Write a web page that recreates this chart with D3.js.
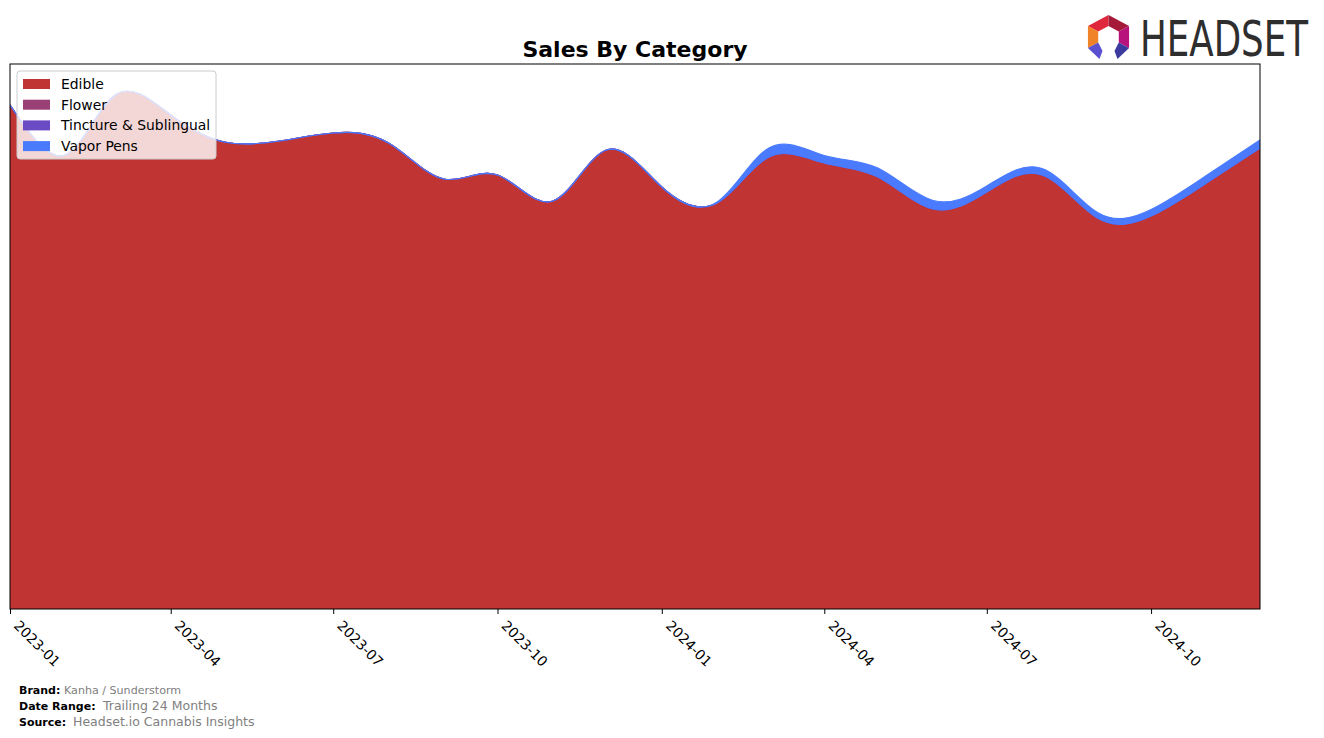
<!DOCTYPE html>
<html>
<head>
<meta charset="utf-8">
<script src="https://cdn.jsdelivr.net/npm/d3@7"></script>
<style>
  html, body { margin: 0; padding: 0; background: #ffffff; }
  svg { display: block; font-family: "DejaVu Sans", sans-serif; }
</style>
</head>
<body>
<svg id="chart" width="1324" height="738"></svg>
<script>
// ---------------- DATA ----------------
const months = ["2023-01","2023-02","2023-03","2023-04","2023-05","2023-06","2023-07","2023-08","2023-09","2023-10","2023-11","2023-12",
                "2024-01","2024-02","2024-03","2024-04","2024-05","2024-06","2024-07","2024-08","2024-09","2024-10","2024-11","2024-12"];
const edible    = [504, 454, 514, 494, 467, 468, 476, 466, 430, 434, 408, 459,
                   422, 406, 452, 446, 432, 400, 417, 434, 391, 393, 426, 461];
const flower    = [0, 0, 0, 0, 0, 0, 0, 0, 0, 0, 0, 0,
                   0, 0, 0, 0, 0, 0, 0, 0, 0, 0, 0, 0];
const tincture  = [0, 0, 0, 0, 0, 0, 0, 0, 0, 0, 0, 0,
                   0, 0, 0, 0, 0, 0, 0, 0, 0, 0, 0, 0];
const vaporPens = [0, 0, 0, 0, 0, 0, 0, 0, 0, 0, 0, 0,
                   0, 1, 9, 7.5, 9, 8.5, 6, 6.5, 5.5, 6.5, 7.5, 8];
const categories = ["Edible", "Flower", "Tincture & Sublingual", "Vapor Pens"];
const tickLabels = ["2023-01","2023-04","2023-07","2023-10","2024-01","2024-04","2024-07","2024-10"];
const yMax = 545;

// ---------------- STYLE ----------------
const colors = ["#c03434", "#9b4077", "#6a4bc3", "#4a7bff"];
const plot = { left: 10, right: 1260, top: 64, bottom: 609 };

const svg = d3.select("#chart");
const parse = d3.timeParse("%Y-%m");

const rows = months.map((m, i) => ({
  date: parse(m),
  "Edible": edible[i],
  "Flower": flower[i],
  "Tincture & Sublingual": tincture[i],
  "Vapor Pens": vaporPens[i]
}));

const x = d3.scaleTime()
  .domain([parse(months[0]), parse(months[months.length - 1])])
  .range([plot.left, plot.right]);
const y = d3.scaleLinear().domain([0, yMax]).range([plot.bottom, plot.top]);

const series = d3.stack().keys(categories)(rows);

const area = d3.area()
  .x(d => x(d.data.date))
  .y0(d => y(d[0]))
  .y1(d => y(d[1]))
  .curve(d3.curveNatural);

svg.append("defs").append("clipPath").attr("id", "clip")
  .append("rect")
  .attr("x", plot.left).attr("y", plot.top)
  .attr("width", plot.right - plot.left).attr("height", plot.bottom - plot.top);

const g = svg.append("g").attr("clip-path", "url(#clip)");
g.selectAll("path.layer")
  .data(series)
  .join("path")
  .attr("class", "layer")
  .attr("d", area)
  .attr("fill", (d, i) => colors[i])
  .attr("stroke", (d, i) => colors[i])
  .attr("stroke-width", 1.2)
  .attr("stroke-linejoin", "round");

// frame
svg.append("rect")
  .attr("x", plot.left).attr("y", plot.top)
  .attr("width", plot.right - plot.left).attr("height", plot.bottom - plot.top)
  .attr("fill", "none").attr("stroke", "#000").attr("stroke-width", 1);

// x axis
const xAxis = d3.axisBottom(x)
  .tickValues(tickLabels.map(parse))
  .tickFormat(d3.timeFormat("%Y-%m"))
  .tickSize(5)
  .tickSizeOuter(0);
const ax = svg.append("g")
  .attr("transform", `translate(0,${plot.bottom})`)
  .call(xAxis);
ax.select(".domain").remove();
ax.selectAll(".tick line").attr("stroke", "#000").attr("stroke-width", 1);
ax.selectAll(".tick text")
  .attr("x", 0).attr("y", 0).attr("dy", "0.75em")
  .attr("transform", "translate(10,10) rotate(45)")
  .attr("text-anchor", "start")
  .attr("font-size", "13.9px")
  .attr("font-family", "DejaVu Sans, sans-serif")
  .attr("fill", "#000");

// title
svg.append("text")
  .attr("x", (plot.left + plot.right) / 2).attr("y", 57)
  .attr("text-anchor", "middle")
  .attr("font-size", "22px").attr("font-weight", "bold")
  .attr("fill", "#000")
  .text("Sales By Category");

// legend
const lg = svg.append("g");
lg.append("rect")
  .attr("x", 17).attr("y", 71).attr("width", 199).attr("height", 88).attr("rx", 3)
  .attr("fill", "#ffffff").attr("fill-opacity", 0.8)
  .attr("stroke", "#cccccc").attr("stroke-width", 1);
categories.forEach((c, i) => {
  const cy = 84 + i * 20.7;
  lg.append("rect").attr("x", 23).attr("y", cy - 5).attr("width", 27).attr("height", 10)
    .attr("fill", colors[i]);
  lg.append("text").attr("x", 61).attr("y", cy).attr("dy", "0.35em")
    .attr("font-size", "13.9px").attr("fill", "#000").text(c);
});

// footer
const footer = [
  { label: "Brand:", value: "Kanha / Sunderstorm", y: 694, vx: 64, vs: 11.1 },
  { label: "Date Range:", value: "Trailing 24 Months", y: 710, vx: 103, vs: 12.5 },
  { label: "Source:", value: "Headset.io Cannabis Insights", y: 726, vx: 73, vs: 12.5 }
];
footer.forEach(f => {
  svg.append("text").attr("x", 19).attr("y", f.y)
    .attr("font-size", "11px").attr("font-weight", "bold").attr("fill", "#000").text(f.label);
  svg.append("text").attr("x", f.vx).attr("y", f.y)
    .attr("font-size", f.vs + "px").attr("fill", "#808080").text(f.value);
});

// logo
const logo = svg.append("g");
const cx = 1108.5, cyL = 37;
const pt = (rad, a) => [cx + rad * 1.08 * Math.cos(a * Math.PI / 180), cyL + rad * Math.sin(a * Math.PI / 180)];
const R = 22, r = 11;
const segs = [
  { a0: 210, a1: 270, c: "#e0283c" },
  { a0: 270, a1: 330, c: "#a51a38" },
  { a0: 330, a1: 390, c: "#b8127c" },
  { a0: 150, a1: 210, c: "#f08228" }
];
segs.forEach(s => {
  const p = [pt(R, s.a0), pt(R, s.a1), pt(r, s.a1), pt(r, s.a0)];
  logo.append("polygon").attr("points", p.map(q => q.join(",")).join(" ")).attr("fill", s.c);
});
const legL = [pt(R, 150), pt(r, 150), [cx - 6, cyL + 14], [cx - 9, cyL + 22]];
const legR = [pt(R, 30), pt(r, 30), [cx + 6, cyL + 14], [cx + 9, cyL + 22]];
logo.append("polygon").attr("points", legL.map(q => q.join(",")).join(" ")).attr("fill", "#5b50d0");
logo.append("polygon").attr("points", legR.map(q => q.join(",")).join(" ")).attr("fill", "#3b3a9e");
logo.append("g")
  .attr("transform", "translate(1140,56) scale(1,1.2)")
  .append("text")
  .attr("x", 0).attr("y", 0)
  .attr("font-family", "'Liberation Sans Narrow', 'DejaVu Sans Condensed', sans-serif")
  .attr("font-size", "41px")
  .attr("textLength", 168).attr("lengthAdjust", "spacingAndGlyphs")
  .attr("fill", "#2e2e2e")
  .text("HEADSET");
</script>
</body>
</html>
